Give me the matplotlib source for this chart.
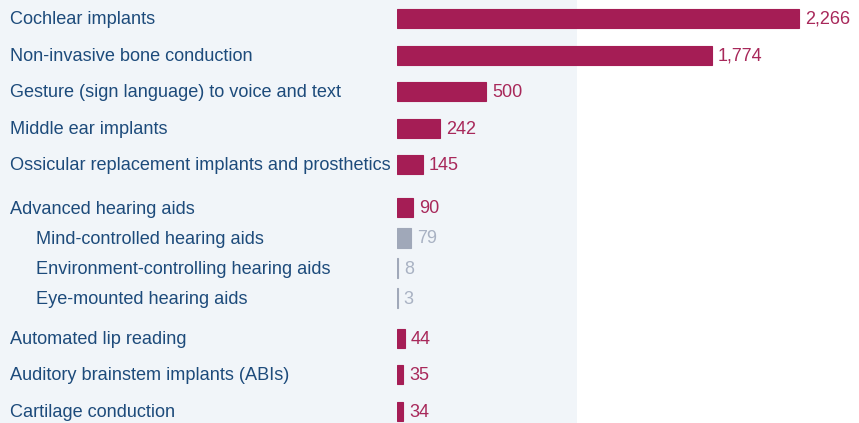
import matplotlib.pyplot as plt
from matplotlib.patches import Rectangle

categories = [
    "Cochlear implants",
    "Non-invasive bone conduction",
    "Gesture (sign language) to voice and text",
    "Middle ear implants",
    "Ossicular replacement implants and prosthetics",
    "Advanced hearing aids",
    "Mind-controlled hearing aids",
    "Environment-controlling hearing aids",
    "Eye-mounted hearing aids",
    "Automated lip reading",
    "Auditory brainstem implants (ABIs)",
    "Cartilage conduction",
]
values = [2266, 1774, 500, 242, 145, 90, 79, 8, 3, 44, 35, 34]
is_sub = [False, False, False, False, False, False, True, True, True, False, False, False]

# layout: row centres in pixels from the top
row_y = [18.5, 55.5, 91.5, 129, 164.5, 208, 238, 268.5, 298.5, 338.5, 374.5, 411.5]

W, H = 859, 423
bar_x0 = 397
px_per_unit = (799 - 397) / 2266

main_col = "#a51d55"
sub_col = "#a0a8b9"
text_col = "#1d4b7b"
main_lbl = "#a8285a"
sub_lbl = "#a9b2c3"

plt.rcParams["font.family"] = ["Liberation Sans", "DejaVu Sans"]

fig = plt.figure(figsize=(W / 100, H / 100), dpi=100)
fig.patches.append(Rectangle((0, 0), 577 / W, 1, transform=fig.transFigure,
                             facecolor="#f1f5f9", edgecolor="none", zorder=0))

ax = fig.add_axes([bar_x0 / W, 0, (W - bar_x0) / W, 1])
ax.set_zorder(2)
ax.set_facecolor("none")
ax.set_xlim(0, (W - bar_x0) / px_per_unit)
ax.set_ylim(H, 0)
ax.axis("off")

for cat, val, sub, y in zip(categories, values, is_sub, row_y):
    col = sub_col if sub else main_col
    h = 20 if sub else 19
    ax.barh(y, val, height=h, color=col, edgecolor=col, linewidth=0.8)
    ax.annotate(f"{val:,}", xy=(val, y + 0.8), xytext=(4.5, 0), textcoords="offset points",
                ha="left", va="center", fontsize=13, color=sub_lbl if sub else main_lbl)
    ax.annotate(cat, xy=(36 if sub else 10, y + 1), xycoords=("figure pixels", "data"),
                ha="left", va="center", fontsize=13.1, color=text_col, annotation_clip=False)

fig.savefig("out.png", dpi=100)
